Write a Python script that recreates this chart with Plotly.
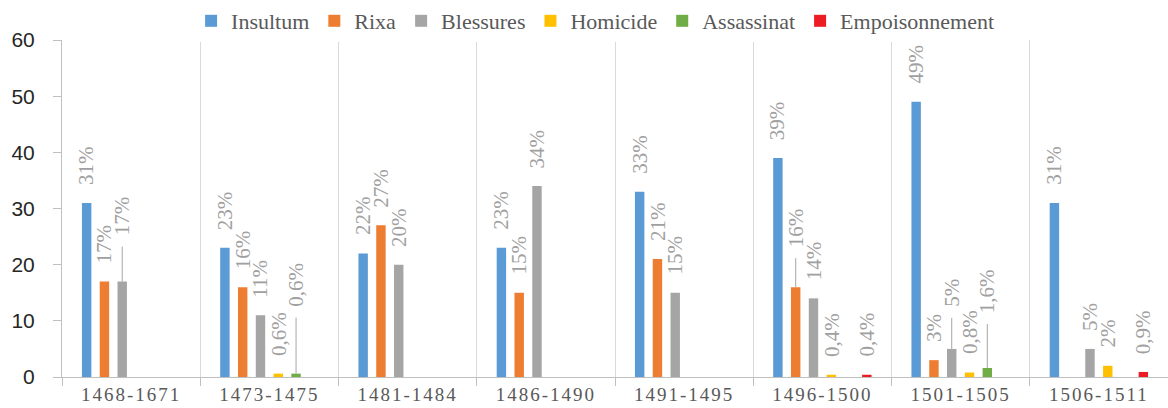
import plotly.graph_objects as go

categories = ["1468-1671", "1473-1475", "1481-1484", "1486-1490",
              "1491-1495", "1496-1500", "1501-1505", "1506-1511"]
insultum = [31, 23, 22, 23, 33, 39, 49, 31]
rixa = [17, 16, 27, 15, 21, 16, 3, None]
blessures = [17, 11, 20, 34, 15, 14, 5, 5]
homicide = [None, 0.6, None, None, None, 0.4, 0.8, 2]
assassinat = [None, 0.6, None, None, None, None, 1.6, None]
empoisonnement = [None, None, None, None, None, 0.4, None, 0.9]

series_names = ["Insultum", "Rixa", "Blessures", "Homicide", "Assassinat", "Empoisonnement"]
series_values = [insultum, rixa, blessures, homicide, assassinat, empoisonnement]
colors = ["#5B9BD5", "#ED7D31", "#A5A5A5", "#FFC000", "#70AD47", "#ED1C24"]

# label style / placement (pixels)
label_gap = 16
leader_lengths = {("Blessures", 0): 35, ("Assassinat", 1): 56, ("Rixa", 5): 29,
                  ("Blessures", 6): 31, ("Assassinat", 6): 44}
leader_gap = 9

bargap = 0.228
bargroupgap = 0.47


def pct(v):
    return f"{v:g}%".replace(".", ",")


fig = go.Figure()
for name, vals, col in zip(series_names, series_values, colors):
    fig.add_trace(go.Bar(name=name, x=categories, y=vals, marker=dict(color=col, line_width=0),
                         hoverinfo="x+y+name"))

n = len(series_names)
slot = (1 - bargap) / n
annotations = []
shapes = []
for k, (name, vals) in enumerate(zip(series_names, series_values)):
    off = (k - (n - 1) / 2) * slot
    for i, v in enumerate(vals):
        if v is None:
            continue
        xp = i + off
        lead = leader_lengths.get((name, i))
        shift = label_gap if lead is None else lead + leader_gap
        annotations.append(dict(x=xp, y=v, xref="x", yref="y", text=pct(v), showarrow=False,
                                textangle=-90, yanchor="bottom", xanchor="center", yshift=shift,
                                font=dict(family="Liberation Serif", size=21, color="#A0A0A0")))
        if lead is not None:
            shapes.append(dict(type="line", xref="x", yref="y", x0=xp, x1=xp,
                               ysizemode="pixel", yanchor=v, y0=0, y1=lead,
                               line=dict(color="#A6A6A6", width=1)))

fig.update_layout(
    width=1168, height=408,
    margin=dict(l=62, r=0, t=40, b=31, autoexpand=False),
    paper_bgcolor="white", plot_bgcolor="white",
    barmode="group", bargap=bargap, bargroupgap=bargroupgap,
    annotations=annotations, shapes=shapes,
    legend=dict(orientation="h", x=0.482, xanchor="center", y=1.0, yanchor="top",
                yref="container",
                font=dict(family="Liberation Serif", size=22, color="#595959"),
                itemclick=False, itemdoubleclick=False),
    xaxis=dict(type="category", tickson="boundaries", ticks="outside", ticklen=8,
               tickcolor="#BFBFBF", showgrid=True, gridcolor="#D9D9D9", gridwidth=1,
               showline=True, linecolor="#BFBFBF", linewidth=1, automargin=False,
               tickfont=dict(family="Liberation Serif", size=19, color="#595959")),
    yaxis=dict(range=[0, 60], dtick=10, showgrid=False, zeroline=False, showline=True,
               linecolor="#BFBFBF", linewidth=1, ticks="outside", ticklen=8, tickcolor="#BFBFBF",
               ticklabelstandoff=14, automargin=False,
               tickfont=dict(family="Liberation Sans", size=21, color="#262626")),
)

post = ("document.body.style.margin='0';document.body.style.overflow='hidden';"
        "document.querySelectorAll('.xtick text').forEach(t => t.style.letterSpacing='2px');")

fig.write_html("out.html", post_script=post, config={"displayModeBar": False})
